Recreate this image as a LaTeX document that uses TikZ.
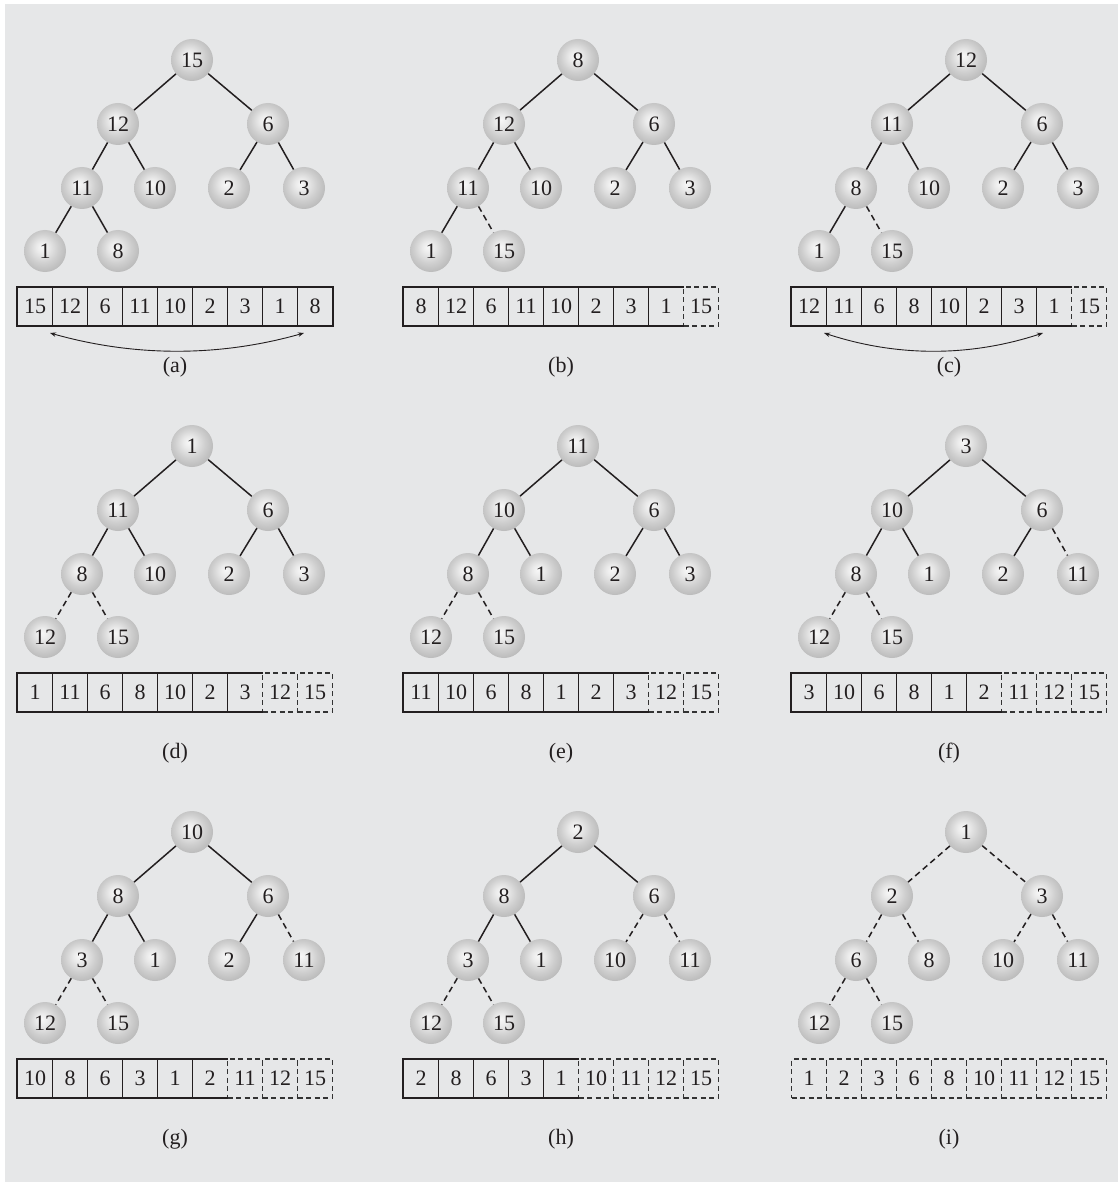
\documentclass[tikz,border=0pt]{standalone}
\usepackage{fontspec}
\setmainfont{Liberation Serif}
\usetikzlibrary{arrows.meta}
\definecolor{bgcol}{RGB}{230,231,232}
\definecolor{inkcol}{RGB}{35,31,32}
\pgfdeclareradialshading{heapball}{\pgfpoint{-4bp}{5bp}}{color(0bp)=(black!3); color(7bp)=(black!8); color(18bp)=(black!19); color(29bp)=(black!28); color(50bp)=(black!28)}
\def\NX{{192,118,268,82,155,229,304,45,118}}
\def\NY{{60,124,124,188,188,188,188,251,251}}
\tikzset{
  hnode/.style={circle, minimum size=42pt, inner sep=0pt, shade, shading=heapball, text=inkcol, font=\fontsize{22pt}{25pt}\selectfont},
  tedge/.style={draw=inkcol, line width=1.5pt},
  dedge/.style={draw=inkcol, line width=1.5pt, dash pattern=on 6pt off 4pt},
  cellbox/.style={rectangle, minimum width=35pt, minimum height=39pt, inner sep=0pt, text=inkcol, font=\fontsize{22pt}{25pt}\selectfont},
  solidcell/.style={cellbox},
  dashcell/.style={cellbox, draw=black!80, line width=1.2pt, dash pattern=on 5pt off 3.5pt},
  sepline/.style={draw=inkcol, line width=1.1pt},
  arrbord/.style={draw=inkcol, line width=2pt},
  swaparrow/.style={draw=inkcol, line width=0.9pt, {Stealth[length=6pt,width=4.5pt]}-{Stealth[length=6pt,width=4.5pt]}},
  plabel/.style={text=inkcol, font=\fontsize{22pt}{25pt}\selectfont}
}
% #1 prefix, #2 dx, #3 dy, #4 values, #5 heap size (tree), #6 solid cells, #7 label, #8 arrow end cell (0 = none)
\newcommand{\heappanel}[8]{%
\begin{scope}[shift={(#2,#3)}]
  \foreach \v [count=\k] in {#4} {
    \pgfmathsetmacro{\px}{\NX[\k-1]}
    \pgfmathsetmacro{\py}{\NY[\k-1]}
    \node[hnode] (#1n\k) at (\px,\py) {\v};
    \pgfmathsetmacro{\cx}{17.5+(\k-0.5)*35}
    \ifnum\k>#6\relax
      \node[dashcell] (#1c\k) at (\cx,306.5) {\v};
    \else
      \node[solidcell] (#1c\k) at (\cx,306.5) {\v};
    \fi
  }
  \foreach \c/\p in {2/1,3/1,4/2,5/2,6/3,7/3,8/4,9/4} {
    \ifnum\c>#5\relax
      \draw[dedge] (#1n\p) -- (#1n\c);
    \else
      \draw[tedge] (#1n\p) -- (#1n\c);
    \fi
  }
  \ifnum#6>1\relax
    \foreach \k in {2,...,#6} {
      \draw[sepline] (#1c\k.north west) -- (#1c\k.south west);
    }
  \fi
  \ifnum#6=9\relax
    \draw[arrbord] (#1c1.north west) rectangle (#1c9.south east);
  \else
    \ifnum#6>0\relax
      \draw[arrbord] (#1c#6.north east) -- (#1c1.north west) -- (#1c1.south west) -- (#1c#6.south east);
    \fi
  \fi
  \node[plabel] (#1lab) at (175,367) {#7};
  \ifnum#8>0\relax
    \pgfmathsetmacro{\ex}{17.5+(#8-0.5)*35-11}
    \pgfmathsetmacro{\ca}{50+(\ex-50)/3}
    \pgfmathsetmacro{\cb}{50+2*(\ex-50)/3}
    \coordinate (#1as) at (50,333);
    \coordinate (#1ae) at (\ex,333);
    \draw[swaparrow] (#1as) .. controls (\ca,357) and (\cb,357) .. (#1ae);
  \fi
\end{scope}}

\begin{document}
\begin{tikzpicture}[x=1pt,y=-1pt]
  \useasboundingbox (0,0) rectangle (1118,1182);
  \fill[bgcol] (5,4) rectangle (1118,1182);
  \heappanel{a}{0}{0}{15,12,6,11,10,2,3,1,8}{9}{9}{(a)}{9}
  \heappanel{b}{386}{0}{8,12,6,11,10,2,3,1,15}{8}{8}{(b)}{0}
  \heappanel{c}{774}{0}{12,11,6,8,10,2,3,1,15}{8}{8}{(c)}{8}
  \heappanel{d}{0}{386}{1,11,6,8,10,2,3,12,15}{7}{7}{(d)}{0}
  \heappanel{e}{386}{386}{11,10,6,8,1,2,3,12,15}{7}{7}{(e)}{0}
  \heappanel{f}{774}{386}{3,10,6,8,1,2,11,12,15}{6}{6}{(f)}{0}
  \heappanel{g}{0}{772}{10,8,6,3,1,2,11,12,15}{6}{6}{(g)}{0}
  \heappanel{h}{386}{772}{2,8,6,3,1,10,11,12,15}{5}{5}{(h)}{0}
  \heappanel{i}{774}{772}{1,2,3,6,8,10,11,12,15}{1}{0}{(i)}{0}
\end{tikzpicture}
\end{document}
